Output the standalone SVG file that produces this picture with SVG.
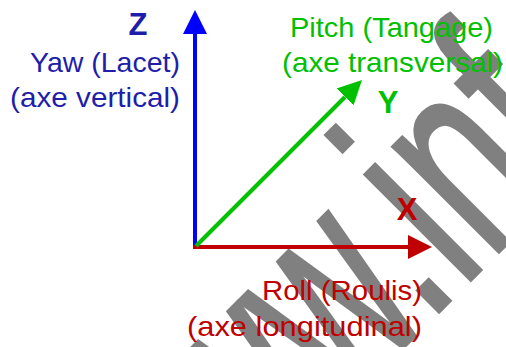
<svg xmlns="http://www.w3.org/2000/svg" width="506" height="347" viewBox="0 0 506 347">
<style>
.lbl{font-family:"Liberation Sans",Arial,sans-serif;font-size:28px}
.ax{font-family:"Liberation Sans",Arial,sans-serif;font-size:31px;font-weight:bold;text-anchor:middle}
.blue{fill:#1E1EAA}
.green{fill:#00C000}
.red{fill:#C00000}
.wm{font-family:"Liberation Sans",Arial,sans-serif;font-size:177px;fill:#808080;stroke:#808080;stroke-width:2px}
</style>
<defs>
<marker id="mb" markerUnits="userSpaceOnUse" markerWidth="24" markerHeight="24" viewBox="0 0 24 24" refX="0" refY="12" orient="auto"><path d="M0,0 L24,12 L0,24 z" fill="#0000FF"/></marker>
<marker id="mr" markerUnits="userSpaceOnUse" markerWidth="24" markerHeight="24" viewBox="0 0 24 24" refX="0" refY="12" orient="auto"><path d="M0,0 L24,12 L0,24 z" fill="#C00000"/></marker>
<marker id="mg" markerUnits="userSpaceOnUse" markerWidth="24" markerHeight="24" viewBox="0 0 24 24" refX="0" refY="12" orient="auto"><path d="M0,0 L24,12 L0,24 z" fill="#00C000"/></marker>
</defs>
<rect width="506" height="347" fill="#FFFFFF"/>
<g id="watermark">
<text class="wm" transform="translate(163 588) rotate(-45) scale(1 1.6)">www.inf</text>
</g>
<g id="connectors" fill="none" stroke-width="4">
<line x1="195" y1="249" x2="195" y2="34" stroke="#0000FF" marker-end="url(#mb)"/>
<line x1="193" y1="247" x2="408" y2="247" stroke="#C00000" marker-end="url(#mr)"/>
<line x1="196" y1="246" x2="345" y2="97" stroke="#00C000" marker-end="url(#mg)"/>
</g>
<g id="z-axis">
<text class="ax blue" x="138" y="35">Z</text>
<text class="lbl blue" x="30" y="72" textLength="150" lengthAdjust="spacingAndGlyphs">Yaw (Lacet)</text>
<text class="lbl blue" x="10" y="107" textLength="170" lengthAdjust="spacingAndGlyphs">(axe vertical)</text>
</g>
<g id="y-axis">
<text class="ax green" x="388" y="113">Y</text>
<text class="lbl green" x="290" y="37" textLength="203" lengthAdjust="spacingAndGlyphs">Pitch (Tangage)</text>
<text class="lbl green" x="282" y="72" textLength="221" lengthAdjust="spacingAndGlyphs">(axe transversal)</text>
</g>
<g id="x-axis">
<text class="ax red" x="407" y="220">X</text>
<text class="lbl red" x="262" y="300" textLength="160" lengthAdjust="spacingAndGlyphs">Roll (Roulis)</text>
<text class="lbl red" x="187" y="336" textLength="235" lengthAdjust="spacingAndGlyphs">(axe longitudinal)</text>
</g>
</svg>
